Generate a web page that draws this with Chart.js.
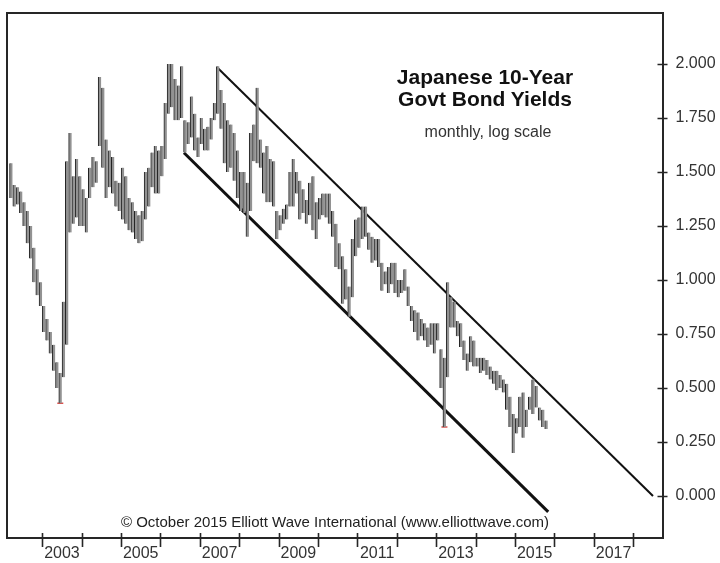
<!DOCTYPE html>
<html>
<head>
<meta charset="utf-8">
<script src="https://cdn.jsdelivr.net/npm/chart.js@4.4.1/dist/chart.umd.min.js"></script>
<style>
  html, body { margin: 0; padding: 0; background: #fff; }
  #wrap { position: relative; width: 720px; height: 563px; font-family: "Liberation Sans", Arial, sans-serif; }
  #wrap canvas { position: absolute; left: 0; top: 0; }
  .note { position: absolute; text-align: center; white-space: nowrap; }
  .title { left: 365px; top: 66px; width: 240px; font-weight: 700; font-size: 21px; line-height: 22px; color: #111; }
  .sub { left: 388px; top: 123px; width: 200px; font-size: 16px; line-height: 18px; color: #333; }
  .copy { left: 85px; top: 513px; width: 500px; font-size: 15px; line-height: 17px; color: #222; }
</style>
</head>
<body>
<div id="wrap">
  <canvas id="chart" width="720" height="563"></canvas>
  <div class="note title">Japanese 10-Year<br>Govt Bond Yields</div>
  <div class="note sub">monthly, log scale</div>
  <div class="note copy">© October 2015 Elliott Wave International (www.elliottwave.com)</div>
</div>
<script>
// monthly bars start March 2002
const firstYear = 2002;
const firstMonth = 3;

const highs = [
  1.54, 1.44, 1.43, 1.41, 1.36, 1.32, 1.25, 1.15, 1.05, 0.99,
  0.88, 0.82, 0.76, 0.70, 0.62, 0.57, 0.90, 1.55, 1.68, 1.48, 1.56, 1.48,
  1.42, 1.38, 1.52, 1.57, 1.55, 1.94, 1.89, 1.65, 1.60, 1.57, 1.46, 1.45,
  1.52, 1.48, 1.38, 1.36, 1.32, 1.30, 1.32, 1.50, 1.52, 1.59, 1.62, 1.60,
  1.62, 1.82, 2.00, 2.00, 1.93, 1.90, 1.99, 1.74, 1.73, 1.85, 1.77, 1.66,
  1.75, 1.70, 1.71, 1.75, 1.82, 1.99, 1.88, 1.82, 1.74, 1.72, 1.68, 1.60,
  1.50, 1.50, 1.45, 1.68, 1.72, 1.89, 1.65, 1.59, 1.62, 1.56, 1.55, 1.32,
  1.30, 1.33, 1.35, 1.50, 1.56, 1.50, 1.46, 1.42, 1.37, 1.45, 1.48, 1.36,
  1.38, 1.40, 1.40, 1.40, 1.32, 1.26, 1.17, 1.11, 1.05, 0.97, 1.19, 1.28,
  1.29, 1.34, 1.34, 1.22, 1.20, 1.19, 1.19, 1.08, 1.04, 1.06, 1.08, 1.08,
  1.00, 1.00, 1.05, 0.97, 0.88, 0.86, 0.85, 0.82, 0.80, 0.78, 0.80, 0.80,
  0.80, 0.68, 0.64, 0.99, 0.92, 0.90, 0.81, 0.80, 0.72, 0.66, 0.74, 0.72,
  0.64, 0.64, 0.64, 0.63, 0.60, 0.58, 0.58, 0.56, 0.54, 0.52, 0.46, 0.38,
  0.36, 0.46, 0.48, 0.40, 0.46, 0.54, 0.51, 0.41, 0.40, 0.35
];
const lows = [
  1.38, 1.34, 1.35, 1.31, 1.25, 1.17, 1.10, 0.99, 0.93, 0.88,
  0.76, 0.72, 0.66, 0.58, 0.50, 0.43, 0.55, 0.70, 1.22, 1.26, 1.29, 1.25,
  1.25, 1.22, 1.38, 1.43, 1.45, 1.62, 1.52, 1.38, 1.43, 1.40, 1.34, 1.32,
  1.28, 1.26, 1.23, 1.22, 1.19, 1.17, 1.18, 1.28, 1.34, 1.43, 1.40, 1.40,
  1.48, 1.56, 1.77, 1.80, 1.74, 1.74, 1.75, 1.59, 1.63, 1.66, 1.60, 1.57,
  1.63, 1.60, 1.60, 1.65, 1.74, 1.77, 1.70, 1.54, 1.50, 1.52, 1.46, 1.38,
  1.32, 1.31, 1.20, 1.32, 1.55, 1.54, 1.52, 1.40, 1.36, 1.36, 1.34, 1.19,
  1.23, 1.26, 1.28, 1.34, 1.34, 1.40, 1.28, 1.31, 1.26, 1.30, 1.23, 1.19,
  1.28, 1.30, 1.29, 1.26, 1.20, 1.06, 1.05, 0.89, 0.91, 0.83, 0.92, 1.11,
  1.15, 1.19, 1.20, 1.14, 1.08, 1.09, 1.06, 0.95, 0.98, 0.94, 0.98, 0.94,
  0.92, 0.94, 0.95, 0.88, 0.81, 0.76, 0.72, 0.74, 0.72, 0.69, 0.70, 0.66,
  0.72, 0.50, 0.32, 0.55, 0.78, 0.78, 0.74, 0.69, 0.63, 0.58, 0.62, 0.60,
  0.60, 0.57, 0.58, 0.56, 0.54, 0.52, 0.49, 0.50, 0.48, 0.40, 0.32, 0.20,
  0.29, 0.32, 0.27, 0.32, 0.40, 0.38, 0.41, 0.35, 0.32, 0.31
];

// red marks at the two major lows
const lowMarkYears = [2003, 2013];
const lowMarkMonths = [6, 3];
const lowMarkValues = [0.43, 0.32];

// trend channel end points: [decimal year, yield]
const upperChannel = [[2007.435, 1.985], [2018.502, 0.0]];
const lowerChannel = [[2006.597, 1.589], [2015.842, -0.073]];

const yearTicks = [2003, 2004, 2005, 2006, 2007, 2008, 2009, 2010, 2011, 2012, 2013, 2014, 2015, 2016, 2017, 2018];
const yearLabels = [2003, 2005, 2007, 2009, 2011, 2013, 2015, 2017];
const yieldTicks = [0, 0.25, 0.5, 0.75, 1.0, 1.25, 1.5, 1.75, 2.0];

const ink = "#262626";
const axisFont = { family: "Liberation Sans", size: 16 };

function monthX(year, month) {
  return year + (month - 0.5) / 12;
}

const bars = highs.map((h, i) => ({
  x: firstYear + (firstMonth - 1 + i + 0.5) / 12,
  y: [lows[i], h]
}));

const marks = lowMarkValues.map((v, i) => ({ x: monthX(lowMarkYears[i], lowMarkMonths[i]), y: v }));

const frameTicks = {
  id: "frameTicks",
  afterDatasetsDraw(chart) {
    const { ctx, chartArea: a, scales: { x, y } } = chart;
    ctx.save();
    ctx.strokeStyle = ink;
    ctx.lineWidth = 2;
    ctx.beginPath();
    ctx.moveTo(a.left, a.bottom);
    ctx.lineTo(a.left, a.top);
    ctx.lineTo(a.right, a.top);
    ctx.stroke();
    ctx.lineWidth = 1.6;
    ctx.beginPath();
    yearTicks.forEach((yr) => {
      const px = Math.round(x.getPixelForValue(yr)) + 0.5;
      ctx.moveTo(px, a.bottom - 5);
      ctx.lineTo(px, a.bottom + 9);
    });
    yieldTicks.forEach((v) => {
      const py = Math.round(y.getPixelForValue(v)) + 0.5;
      ctx.moveTo(a.right - 5, py);
      ctx.lineTo(a.right + 5, py);
    });
    ctx.stroke();
    ctx.restore();
  }
};

new Chart(document.getElementById("chart"), {
  type: "bar",
  plugins: [frameTicks],
  data: {
    datasets: [
      {
        type: "bar",
        data: bars,
        backgroundColor: "#929292",
        borderColor: "#222",
        borderWidth: { left: 1, right: 0, top: 0, bottom: 0 },
        borderSkipped: false,
        barThickness: 3
      },
      {
        type: "line",
        data: upperChannel.map((p) => ({ x: p[0], y: p[1] })),
        borderColor: "#111",
        borderWidth: 2,
        pointRadius: 0
      },
      {
        type: "line",
        data: lowerChannel.map((p) => ({ x: p[0], y: p[1] })),
        borderColor: "#111",
        borderWidth: 3,
        pointRadius: 0
      },
      {
        type: "scatter",
        data: marks,
        pointStyle: "line",
        radius: 3,
        borderColor: "#d9534f",
        borderWidth: 1.5
      }
    ]
  },
  options: {
    responsive: false,
    animation: false,
    layout: { padding: { left: 7, top: 13, right: 0, bottom: 0 } },
    plugins: { legend: { display: false }, tooltip: { enabled: false } },
    scales: {
      x: {
        type: "linear",
        position: "bottom",
        min: 2002.106,
        max: 2018.743,
        offset: false,
        afterBuildTicks(scale) {
          scale.ticks = yearLabels.map((yr) => ({ value: yr + 0.5 }));
        },
        afterFit(scale) { scale.height = 25; },
        grid: { display: true, drawOnChartArea: false, color: "transparent", tickLength: 6, offset: false },
        border: { display: true, color: ink, width: 2 },
        ticks: {
          color: "#333",
          font: axisFont,
          padding: 0,
          maxRotation: 0,
          autoSkip: false,
          callback: (v) => String(Math.floor(v))
        }
      },
      y: {
        type: "linear",
        position: "right",
        min: -0.194,
        max: 2.236,
        beginAtZero: false,
        afterBuildTicks(scale) {
          scale.ticks = yieldTicks.map((v) => ({ value: v }));
        },
        afterFit(scale) { scale.width = 57.5; },
        grid: { display: true, drawOnChartArea: false, color: "transparent", tickLength: 12 },
        border: { display: true, color: ink, width: 2 },
        ticks: {
          color: "#333",
          font: axisFont,
          padding: 1,
          callback: (v) => v.toFixed(3)
        }
      }
    }
  }
});
</script>
</body>
</html>
